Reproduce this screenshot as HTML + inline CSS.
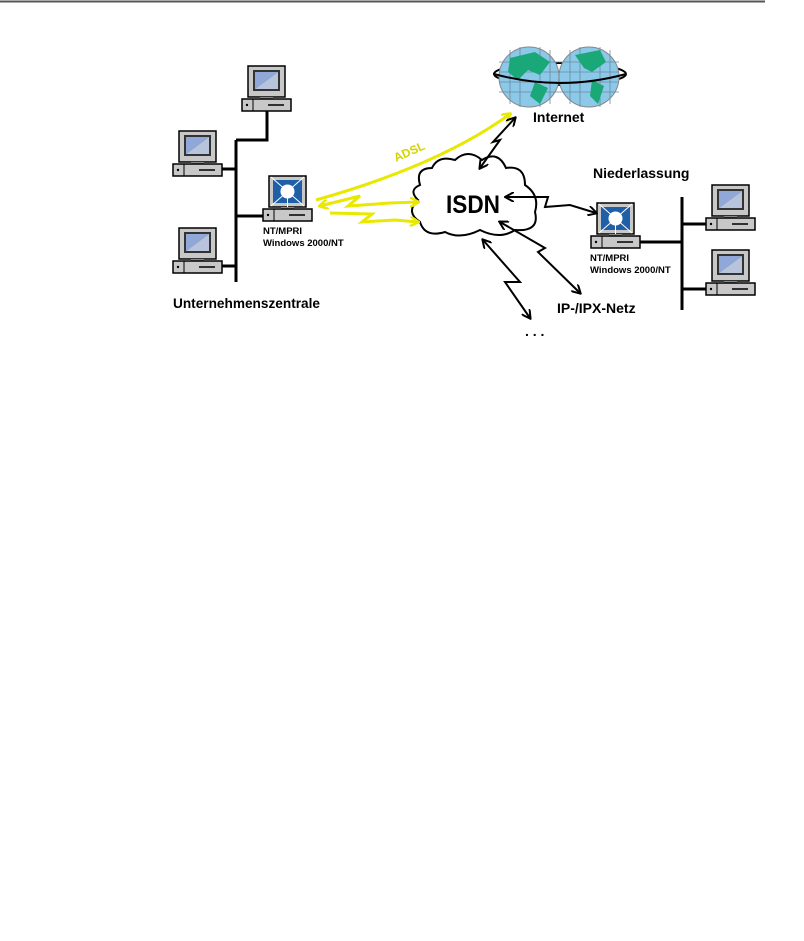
<!DOCTYPE html>
<html><head><meta charset="utf-8"><style>
html,body{margin:0;padding:0;background:#fff;width:804px;height:941px;overflow:hidden}
svg{display:block}
text{font-family:"Liberation Sans",sans-serif;font-weight:bold;fill:#000}
</style></head><body>
<svg width="804" height="941" viewBox="0 0 804 941" xmlns="http://www.w3.org/2000/svg">
<defs>
<g id="pc">
<rect x="0" y="0" width="37" height="31" fill="#c8c8c8" stroke="#000" stroke-width="1.5"/>
<rect x="5" y="4" width="27" height="21" fill="#333"/>
<polygon points="7,6 30,6 7,23" fill="#8fa8d8"/>
<polygon points="30,6 30,23 7,23" fill="#b8c4dc"/>
<rect x="12" y="31" width="13" height="2" fill="#888"/>
<rect x="-6" y="33" width="49" height="12" fill="#c8c8c8" stroke="#000" stroke-width="1.5"/>
<line x1="5" y1="33" x2="5" y2="45" stroke="#000"/>
<circle cx="-1" cy="39" r="1.2" fill="#000"/>
<line x1="20" y1="39" x2="36" y2="39" stroke="#000" stroke-width="1.5"/>
</g>
<g id="nt">
<rect x="0" y="0" width="37" height="31" fill="#c8c8c8" stroke="#000" stroke-width="1.5"/>
<rect x="4" y="4" width="29" height="23" fill="#1f5fa8"/>
<circle cx="18.5" cy="15.5" r="7" fill="#fff"/>
<g stroke="#fff" stroke-width="1"><line x1="18.5" y1="15.5" x2="2" y2="1"/><line x1="18.5" y1="15.5" x2="35" y2="1"/><line x1="18.5" y1="15.5" x2="2" y2="30"/><line x1="18.5" y1="15.5" x2="35" y2="30"/><line x1="18.5" y1="15.5" x2="18.5" y2="35"/></g>
<rect x="12" y="31" width="13" height="2" fill="#888"/>
<rect x="-6" y="33" width="49" height="12" fill="#c8c8c8" stroke="#000" stroke-width="1.5"/>
<line x1="5" y1="33" x2="5" y2="45" stroke="#000"/>
<circle cx="-1" cy="39" r="1.2" fill="#000"/>
<line x1="20" y1="39" x2="36" y2="39" stroke="#000" stroke-width="1.5"/>
</g>
<marker id="ab" markerWidth="10" markerHeight="10" refX="8" refY="5" orient="auto" markerUnits="userSpaceOnUse"><path d="M0,0 L9,5 L0,10" fill="none" stroke="#000" stroke-width="2"/></marker>
<marker id="ay" markerWidth="10" markerHeight="10" refX="8" refY="5" orient="auto" markerUnits="userSpaceOnUse"><path d="M0,0 L9,5 L0,10" fill="none" stroke="#e8e800" stroke-width="2.5"/></marker>
<marker id="abs" markerWidth="10" markerHeight="10" refX="8" refY="5" orient="auto-start-reverse" markerUnits="userSpaceOnUse"><path d="M0,0 L9,5 L0,10" fill="none" stroke="#000" stroke-width="2"/></marker>
<marker id="ays" markerWidth="10" markerHeight="10" refX="8" refY="5" orient="auto-start-reverse" markerUnits="userSpaceOnUse"><path d="M0,0 L9,5 L0,10" fill="none" stroke="#e8e800" stroke-width="2.5"/></marker>
</defs>
<line x1="0" y1="1.5" x2="765" y2="1.5" stroke="#555" stroke-width="2"/>

<g stroke="#000" stroke-width="3" fill="none">
<polyline points="267,111 267,140 236,140"/>
<line x1="236" y1="140" x2="236" y2="282"/>
<line x1="222" y1="169" x2="236" y2="169"/>
<line x1="236" y1="216" x2="263" y2="216"/>
<line x1="222" y1="266" x2="236" y2="266"/>
<line x1="682" y1="197" x2="682" y2="310"/>
<line x1="682" y1="224" x2="706" y2="224"/>
<line x1="682" y1="289" x2="706" y2="289"/>
<line x1="639" y1="242" x2="682" y2="242"/>
</g>
<use href="#pc" x="248" y="66"/>
<use href="#pc" x="179" y="131"/>
<use href="#pc" x="179" y="228"/>
<use href="#pc" x="712" y="185"/>
<use href="#pc" x="712" y="250"/>
<use href="#nt" x="269" y="176"/>
<use href="#nt" x="597" y="203"/>

<ellipse cx="560" cy="74" rx="66" ry="11" fill="none" stroke="#000" stroke-width="2"/>
<circle cx="529" cy="77" r="30" fill="#8cc8e8" stroke="#888"/>
<circle cx="589" cy="77" r="30" fill="#8cc8e8" stroke="#888"/>
<g stroke="#6a8aa0" stroke-width="0.8">
<line x1="499" y1="62" x2="619" y2="62"/><line x1="499" y1="72" x2="619" y2="72"/><line x1="499" y1="82" x2="619" y2="82"/><line x1="499" y1="92" x2="619" y2="92"/>
<line x1="510" y1="50" x2="510" y2="104"/><line x1="520" y1="47" x2="520" y2="107"/><line x1="540" y1="47" x2="540" y2="107"/><line x1="550" y1="50" x2="550" y2="104"/><line x1="570" y1="50" x2="570" y2="104"/><line x1="580" y1="47" x2="580" y2="107"/><line x1="600" y1="47" x2="600" y2="107"/><line x1="610" y1="50" x2="610" y2="104"/>
</g>
<path d="M510,58 L535,52 L550,62 L540,75 L528,70 L518,80 L508,72 Z M535,82 L548,88 L540,104 L530,96 Z" fill="#1aa878"/>
<path d="M575,55 L600,50 L606,62 L592,72 L584,68 Z M592,80 L604,86 L598,104 L590,96 Z" fill="#1aa878"/>
<path d="M494,74 Q560,92 626,74" fill="none" stroke="#000" stroke-width="2"/>

<path d="M420,185 Q415,168 432,168 Q438,155 455,160 Q468,148 482,160 Q498,150 506,168 Q525,165 525,185 Q540,195 535,212 Q540,232 515,230 Q500,240 480,230 Q460,240 445,232 Q425,238 420,222 Q405,212 418,200 Q408,190 420,185 Z" fill="#fff" stroke="#000" stroke-width="2"/>
<text x="446" y="213" font-size="25" textLength="54" lengthAdjust="spacingAndGlyphs">ISDN</text>

<path d="M316,200 Q440,165 510,114" fill="none" stroke="#e8e800" stroke-width="3" marker-end="url(#ay)"/>
<text x="0" y="0" font-size="12" style="fill:#d4d400" transform="translate(396,162) rotate(-24)">ADSL</text>
<path d="M320,206 L360,196 L348,206 L390,203 L418,202" fill="none" stroke="#e8e800" stroke-width="3" marker-start="url(#ays)" marker-end="url(#ay)"/>
<path d="M330,213 L372,214 L362,222 L395,220 L418,222" fill="none" stroke="#e8e800" stroke-width="3" marker-end="url(#ay)"/>

<path d="M480,168 L500,140 L493,142 L515,118" fill="none" stroke="#000" stroke-width="2" marker-start="url(#abs)" marker-end="url(#ab)"/>
<path d="M506,197 L548,197 L545,207 L570,205 L596,213" fill="none" stroke="#000" stroke-width="2" marker-start="url(#abs)" marker-end="url(#ab)"/>
<path d="M500,222 L545,248 L538,252 L580,293" fill="none" stroke="#000" stroke-width="2" marker-start="url(#abs)" marker-end="url(#ab)"/>
<path d="M483,240 L520,282 L505,282 L530,318" fill="none" stroke="#000" stroke-width="2" marker-start="url(#abs)" marker-end="url(#ab)"/>

<text x="533" y="122" font-size="14">Internet</text>
<text x="593" y="178" font-size="14">Niederlassung</text>
<text x="557" y="313" font-size="14">IP-/IPX-Netz</text>
<text x="525" y="336" font-size="14">. . .</text>
<text x="173" y="308" font-size="14" textLength="147" lengthAdjust="spacingAndGlyphs">Unternehmenszentrale</text>
<text x="263" y="234" font-size="9.5">NT/MPRI</text>
<text x="263" y="246" font-size="9.5">Windows 2000/NT</text>
<text x="590" y="261" font-size="9.5">NT/MPRI</text>
<text x="590" y="273" font-size="9.5">Windows 2000/NT</text>
</svg>
</body></html>
